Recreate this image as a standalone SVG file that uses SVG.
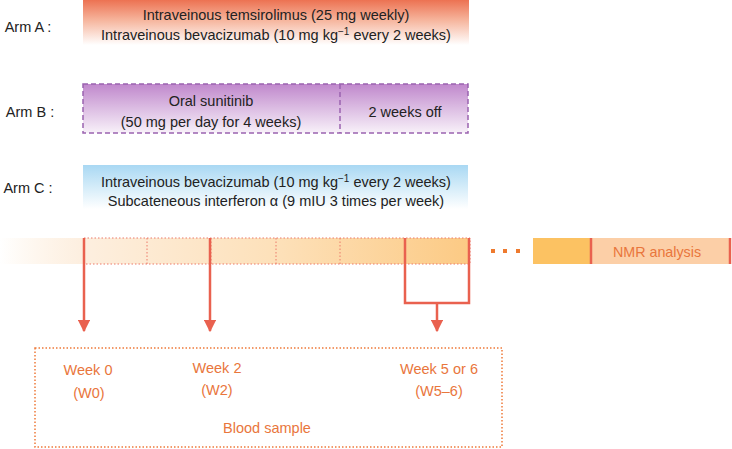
<svg xmlns="http://www.w3.org/2000/svg" width="732" height="449" viewBox="0 0 732 449">
<defs>
<linearGradient id="gA" x1="0" y1="0" x2="0" y2="1">
<stop offset="0" stop-color="#ec7252"/>
<stop offset="0.45" stop-color="#f6b59d"/>
<stop offset="1" stop-color="#ffffff"/>
</linearGradient>
<linearGradient id="gB" x1="0" y1="0" x2="0" y2="1">
<stop offset="0" stop-color="#c088cc"/>
<stop offset="0.5" stop-color="#dcbde3"/>
<stop offset="1" stop-color="#f8f1f9"/>
</linearGradient>
<linearGradient id="gC" x1="0" y1="0" x2="0" y2="1">
<stop offset="0" stop-color="#a9d8f3"/>
<stop offset="0.5" stop-color="#d4ecf9"/>
<stop offset="1" stop-color="#ffffff"/>
</linearGradient>
<linearGradient id="gTL" x1="0" y1="0" x2="470" y2="0" gradientUnits="userSpaceOnUse">
<stop offset="0" stop-color="#fdebd6" stop-opacity="0"/>
<stop offset="0.17" stop-color="#fdefe0" stop-opacity="1"/>
<stop offset="0.6" stop-color="#fde0b8"/>
<stop offset="1" stop-color="#fcca84"/>
</linearGradient>
<marker id="ah" viewBox="0 0 10 10" refX="9" refY="5" markerWidth="5" markerHeight="5" orient="auto" markerUnits="strokeWidth">
<path d="M0,0 L10,5 L0,10 z" fill="#e9614f"/>
</marker>
</defs>
<style>
.t{font-family:"Liberation Sans",Arial,sans-serif;font-size:14.5px;fill:#222;text-anchor:middle}
.lbl{font-family:"Liberation Sans",Arial,sans-serif;font-size:14.5px;fill:#222;text-anchor:middle}
.o{font-family:"Liberation Sans",Arial,sans-serif;font-size:14.5px;fill:#e9763c;text-anchor:middle}
.arr{stroke:#e9614f;stroke-width:2.5;fill:none}
.dot{stroke:#ec7a6a;stroke-width:1;stroke-dasharray:1.5 2;fill:none}
</style>

<g id="armA">
<text class="lbl" x="28" y="32">Arm A :</text>
<rect x="83" y="0" width="386" height="45" fill="url(#gA)"/>
<text class="t" x="276" y="20">Intraveinous temsirolimus (25 mg weekly)</text>
<text class="t" x="276" y="40">Intraveinous bevacizumab (10 mg kg<tspan dy="-5" font-size="10">−1</tspan><tspan dy="5"> every 2 weeks)</tspan></text>
</g>

<g id="armB">
<text class="lbl" x="30" y="117">Arm B :</text>
<rect x="83" y="84" width="385" height="49" fill="url(#gB)" stroke="#9b63b0" stroke-width="1.5" stroke-dasharray="5 3"/>
<line x1="340" y1="84" x2="340" y2="133" stroke="#9b63b0" stroke-width="1.5" stroke-dasharray="5 3"/>
<text class="t" x="211" y="106">Oral sunitinib</text>
<text class="t" x="211" y="127">(50 mg per day for 4 weeks)</text>
<text class="t" x="405" y="117">2 weeks off</text>
</g>

<g id="armC">
<text class="lbl" x="28" y="193">Arm C :</text>
<rect x="83" y="165" width="385" height="44" fill="url(#gC)"/>
<text class="t" x="276" y="187">Intraveinous bevacizumab (10 mg kg<tspan dy="-5" font-size="10">−1</tspan><tspan dy="5"> every 2 weeks)</tspan></text>
<text class="t" x="276" y="206">Subcateneous interferon α (9 mIU 3 times per week)</text>
</g>

<g id="timeline">
<rect x="0" y="238" width="470" height="26" fill="url(#gTL)"/>
<rect x="84" y="238" width="386" height="26" class="dot"/>
<line x1="147" y1="238" x2="147" y2="264" class="dot"/>
<line x1="211" y1="238" x2="211" y2="264" class="dot"/>
<line x1="276" y1="238" x2="276" y2="264" class="dot"/>
<line x1="340" y1="238" x2="340" y2="264" class="dot"/>
<line x1="405" y1="238" x2="405" y2="264" class="dot"/>
<rect x="491" y="249" width="4" height="4" fill="#ee7a2e"/>
<rect x="503" y="249" width="4" height="4" fill="#ee7a2e"/>
<rect x="516" y="249" width="4" height="4" fill="#ee7a2e"/>
</g>

<g id="nmr">
<rect x="533" y="238" width="58" height="26" fill="#fcc262"/>
<rect x="591" y="238" width="139" height="26" fill="#fccfa7"/>
<line x1="591" y1="238" x2="591" y2="264" stroke="#e9614f" stroke-width="2.5"/>
<line x1="730" y1="238" x2="730" y2="264" stroke="#e9614f" stroke-width="2.5"/>
<text class="o" x="657" y="257" style="font-size:14.3px">NMR analysis</text>
</g>

<g id="connectors">
<line x1="84" y1="238" x2="84" y2="331" class="arr" marker-end="url(#ah)"/>
<line x1="210" y1="238" x2="210" y2="331" class="arr" marker-end="url(#ah)"/>
<polyline points="405,238 405,303 469,303 469,238" class="arr"/>
<line x1="437" y1="303" x2="437" y2="331" class="arr" marker-end="url(#ah)"/>
</g>

<g id="blood">
<rect x="35" y="348" width="467" height="99" fill="none" stroke="#ee7a3a" stroke-width="1.5" stroke-dasharray="1.5 2"/>
<text class="o" x="88" y="375">Week 0</text>
<text class="o" x="89" y="398">(W0)</text>
<text class="o" x="217" y="373">Week 2</text>
<text class="o" x="217" y="395">(W2)</text>
<text class="o" x="439" y="374">Week 5 or 6</text>
<text class="o" x="439" y="396">(W5–6)</text>
<text class="o" x="267" y="433">Blood sample</text>
</g>
</svg>
